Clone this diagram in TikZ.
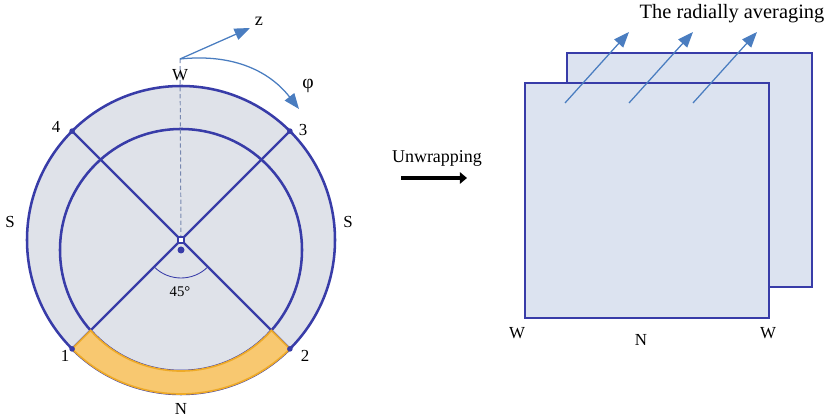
\documentclass[tikz,border=0pt]{standalone}
\usepackage{fontspec}
\setmainfont{Liberation Serif}
\usetikzlibrary{arrows.meta}
\definecolor{ringblue}{RGB}{56,60,168}
\definecolor{ringfill}{RGB}{223,226,233}
\definecolor{sheetfill}{RGB}{220,227,240}
\definecolor{arrowblue}{RGB}{74,125,192}
\definecolor{dashgray}{RGB}{120,136,176}
\definecolor{bandfill}{RGB}{248,200,112}
\definecolor{banddraw}{RGB}{238,170,40}

\begin{document}
\begin{tikzpicture}[x=0.025cm, y=0.025cm, every node/.style={font=\fontsize{12}{14}\selectfont, inner sep=1pt}, ring/.style={draw=ringblue, line width=1.8pt, fill=ringfill}, spoke/.style={draw=ringblue, line width=1.6pt}, band/.style={draw=banddraw, line width=1.2pt, fill=bandfill}, sheet/.style={draw=ringblue, line width=1.8pt, fill=sheetfill}, guide/.style={draw=arrowblue, line width=0.9pt, -{Triangle[length=11pt, width=8.5pt]}}]
	\useasboundingbox (0,0) rectangle (831,419);
	\coordinate (O) at (181,179);
	\coordinate (I) at (181,169);
	\coordinate (p1) at ([shift={(225:154)}]O);
	\coordinate (p2) at ([shift={(315:154)}]O);
	\coordinate (p3) at ([shift={(45:154)}]O);
	\coordinate (p4) at ([shift={(135:154)}]O);
	% ring, spokes and the N sector
	\draw[ring] (O) circle[radius=154];
	\draw[ring] (I) circle[radius=121];
	\draw[spoke] (p4) -- (p2);
	\draw[spoke] (p3) -- (p1);
	\draw[band] (p1) arc[start angle=225, end angle=315, radius=154] -- ([shift={(318.35:121)}]I) arc[start angle=318.35, end angle=221.65, radius=121] -- cycle;
	\foreach \p in {p1,p2,p3,p4} \fill[ringblue] (\p) circle[radius=2.8];
	\draw[ringblue, line width=0.6pt] ([shift={(225:38)}]O) arc[start angle=225, end angle=315, radius=38];
	\coordinate (axis) at (180,360);
	\draw[dashgray, line width=0.7pt, dash pattern=on 3pt off 2pt] (axis) -- (O);
	\node[draw=ringblue, fill=white, line width=1.2pt, minimum size=4.5pt, inner sep=0pt] (hub) at (O) {};
	\fill[ringblue] (I) circle[radius=3.5];
	% axis and angle arrows
	\coordinate (ztip) at (250,391);
	\coordinate (phitip) at (299,310);
	\draw[guide] (axis) -- (ztip);
	\draw[guide] (axis) to[out=6, in=128] (phitip);
	\node[font=\fontsize{13}{15}\selectfont] (z) at (259,398) {z};
	\node[font=\fontsize{14}{16}\selectfont] (phi) at (308,333) {φ};
	\node (wtop) at (180,344) {W};
	\node (n4) at (56,292) {4};
	\node (n3) at (303,289) {3};
	\node (n1) at (65,63) {1};
	\node (n2) at (305,63) {2};
	\node (sleft) at (10,197) {S};
	\node (sright) at (348,197) {S};
	\node (nbot) at (181,10) {N};
	\node[font=\fontsize{10.5}{12}\selectfont] (deg) at (180,127) {45°};
	% unwrapped sheets
	\node[font=\fontsize{12.8}{15}\selectfont] (unwrap) at (437,261) {Unwrapping};
	\coordinate (ua) at (401,241);
	\coordinate (ub) at (467,241);
	\draw[line width=3.5pt, -{Triangle[length=5pt, width=8pt]}] (ua) -- (ub);
	\draw[sheet] (567,132) rectangle (812,366);
	\draw[sheet] (525,101) rectangle (769,336);
	\foreach \i/\x in {1/565,2/629,3/693} {
		\coordinate (a\i) at (\x,316);
		\coordinate (b\i) at (\x+64,387);
		\draw[guide] (a\i) -- (b\i);
	}
	\node[font=\fontsize{14.5}{17}\selectfont] (avg) at (732,405) {The radially averaging};
	\node (wleft) at (517,86) {W};
	\node (nmid) at (641,79) {N};
	\node (wright) at (768,86) {W};
\end{tikzpicture}
\end{document}
